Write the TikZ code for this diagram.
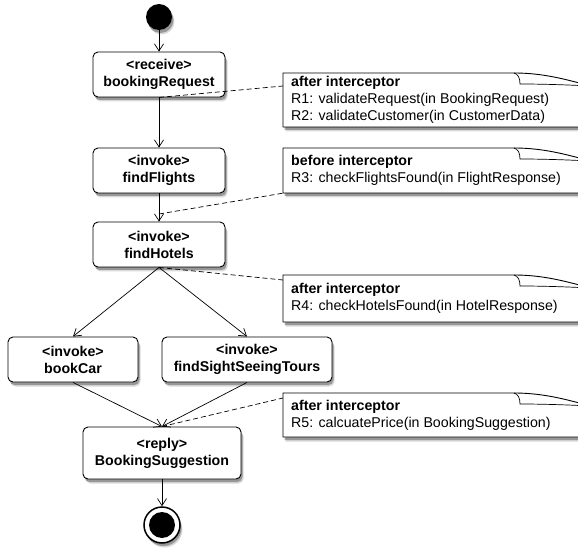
\documentclass[tikz,border=0pt]{standalone}
\usepackage{fontspec}
\setmainfont{Liberation Sans}
\usetikzlibrary{arrows.meta,shadows}
\tikzset{
  shad/.style={drop shadow={shadow xshift=2.5pt, shadow yshift=-4.5pt, opacity=0.15, fill=black},
               drop shadow={shadow xshift=1.5pt, shadow yshift=-3pt, opacity=0.3, fill=black}},
  act/.style={draw, line width=0.9pt, rounded corners=5pt, fill=white, shad,
    font=\fontsize{14.2}{17}\selectfont\bfseries, align=center, inner sep=0pt},
  flow/.style={-{Straight Barb[length=7pt,width=9pt]}, line width=0.7pt},
  anchorline/.style={dash pattern=on 5pt off 3pt, line width=0.7pt},
  notebg/.style={draw, fill=white, line width=0.9pt, shad},
  curl/.style={draw, line width=0.7pt},
  notetext/.style={font=\fontsize{14.2}{17}\selectfont, align=left, anchor=west, inner sep=0pt}
}
\newcommand{\curlnote}[2]{%
  \path[notebg] (283,#1) -- (514,#1) .. controls (540,#1) and (562,#1+5) .. (590,#1+13) -- (590,#2) -- (283,#2) -- cycle;
  \draw[curl] (514,#1) .. controls (518,#1+1) and (520,#1+5) .. (520,#1+11) .. controls (545,#1+11) and (570,#1+12) .. (590,#1+13);
}
\begin{document}
\begin{tikzpicture}[x=1pt,y=-1pt]
\path[use as bounding box] (0,0) rectangle (578,553);
\clip (0,0) rectangle (578,553);
\fill[white] (0,0) rectangle (578,553);

% notes
\curlnote{73}{127}
\curlnote{148}{193}
\curlnote{275}{322}
\curlnote{393}{437}
\node[notetext] (t1) at (291,100) {\textbf{after interceptor}\\R1: validateRequest(in BookingRequest)\\R2: validateCustomer(in CustomerData)};
\node[notetext] (t2) at (291,170.5) {\textbf{before interceptor}\\R3: checkFlightsFound(in FlightResponse)};
\node[notetext] (t3) at (291,298.5) {\textbf{after interceptor}\\R4: checkHotelsFound(in HotelResponse)};
\node[notetext] (t4) at (291,415) {\textbf{after interceptor}\\R5: calcuatePrice(in BookingSuggestion)};
\coordinate (n1a) at (283,86);
\coordinate (n2a) at (284,193);
\coordinate (n3a) at (283,280);
\coordinate (n4a) at (283,398);

% activity nodes
\node[circle, fill=black, minimum size=26pt, inner sep=0pt, shad] (start) at (159,17) {};
\node[act, minimum width=132pt, minimum height=45pt] (br) at (159,74.5) {<receive>\\bookingRequest};
\node[act, minimum width=132pt, minimum height=45pt] (ff) at (159,170.5) {<invoke>\\findFlights};
\node[act, minimum width=132pt, minimum height=45pt] (fh) at (159,244.5) {<invoke>\\findHotels};
\node[act, minimum width=130pt, minimum height=45pt] (bc) at (73,359.5) {<invoke>\\bookCar};
\node[act, minimum width=170pt, minimum height=45pt] (fst) at (247,359.5) {<invoke>\\findSightSeeingTours};
\node[act, minimum width=158pt, minimum height=52pt] (bs) at (162,453) {<reply>\\BookingSuggestion};
\node[circle, draw, line width=1.5pt, fill=white, minimum size=36pt, inner sep=0pt, shad] (end) at (162,525) {};
\node[circle, fill=black, minimum size=26pt, inner sep=0pt] (endin) at (end) {};

% flows
\draw[flow] (start) -- (br);
\draw[flow] (br) -- (ff);
\draw[flow] (ff) -- (fh);
\draw[flow] (fh.south) -- (bc.north);
\draw[flow] (fh.south) -- (fst.north);
\draw[flow] (bc.south) -- (bs.north);
\draw[flow] (fst.south) -- (bs.north);
\draw[flow] (bs) -- (end);

% note anchors
\coordinate (e2) at (159,214);
\draw[anchorline] (br.south) -- (n1a);
\draw[anchorline] (e2) -- (n2a);
\draw[anchorline] (fh.south) -- (n3a);
\draw[anchorline] (bs.north) -- (n4a);
\end{tikzpicture}
\end{document}
